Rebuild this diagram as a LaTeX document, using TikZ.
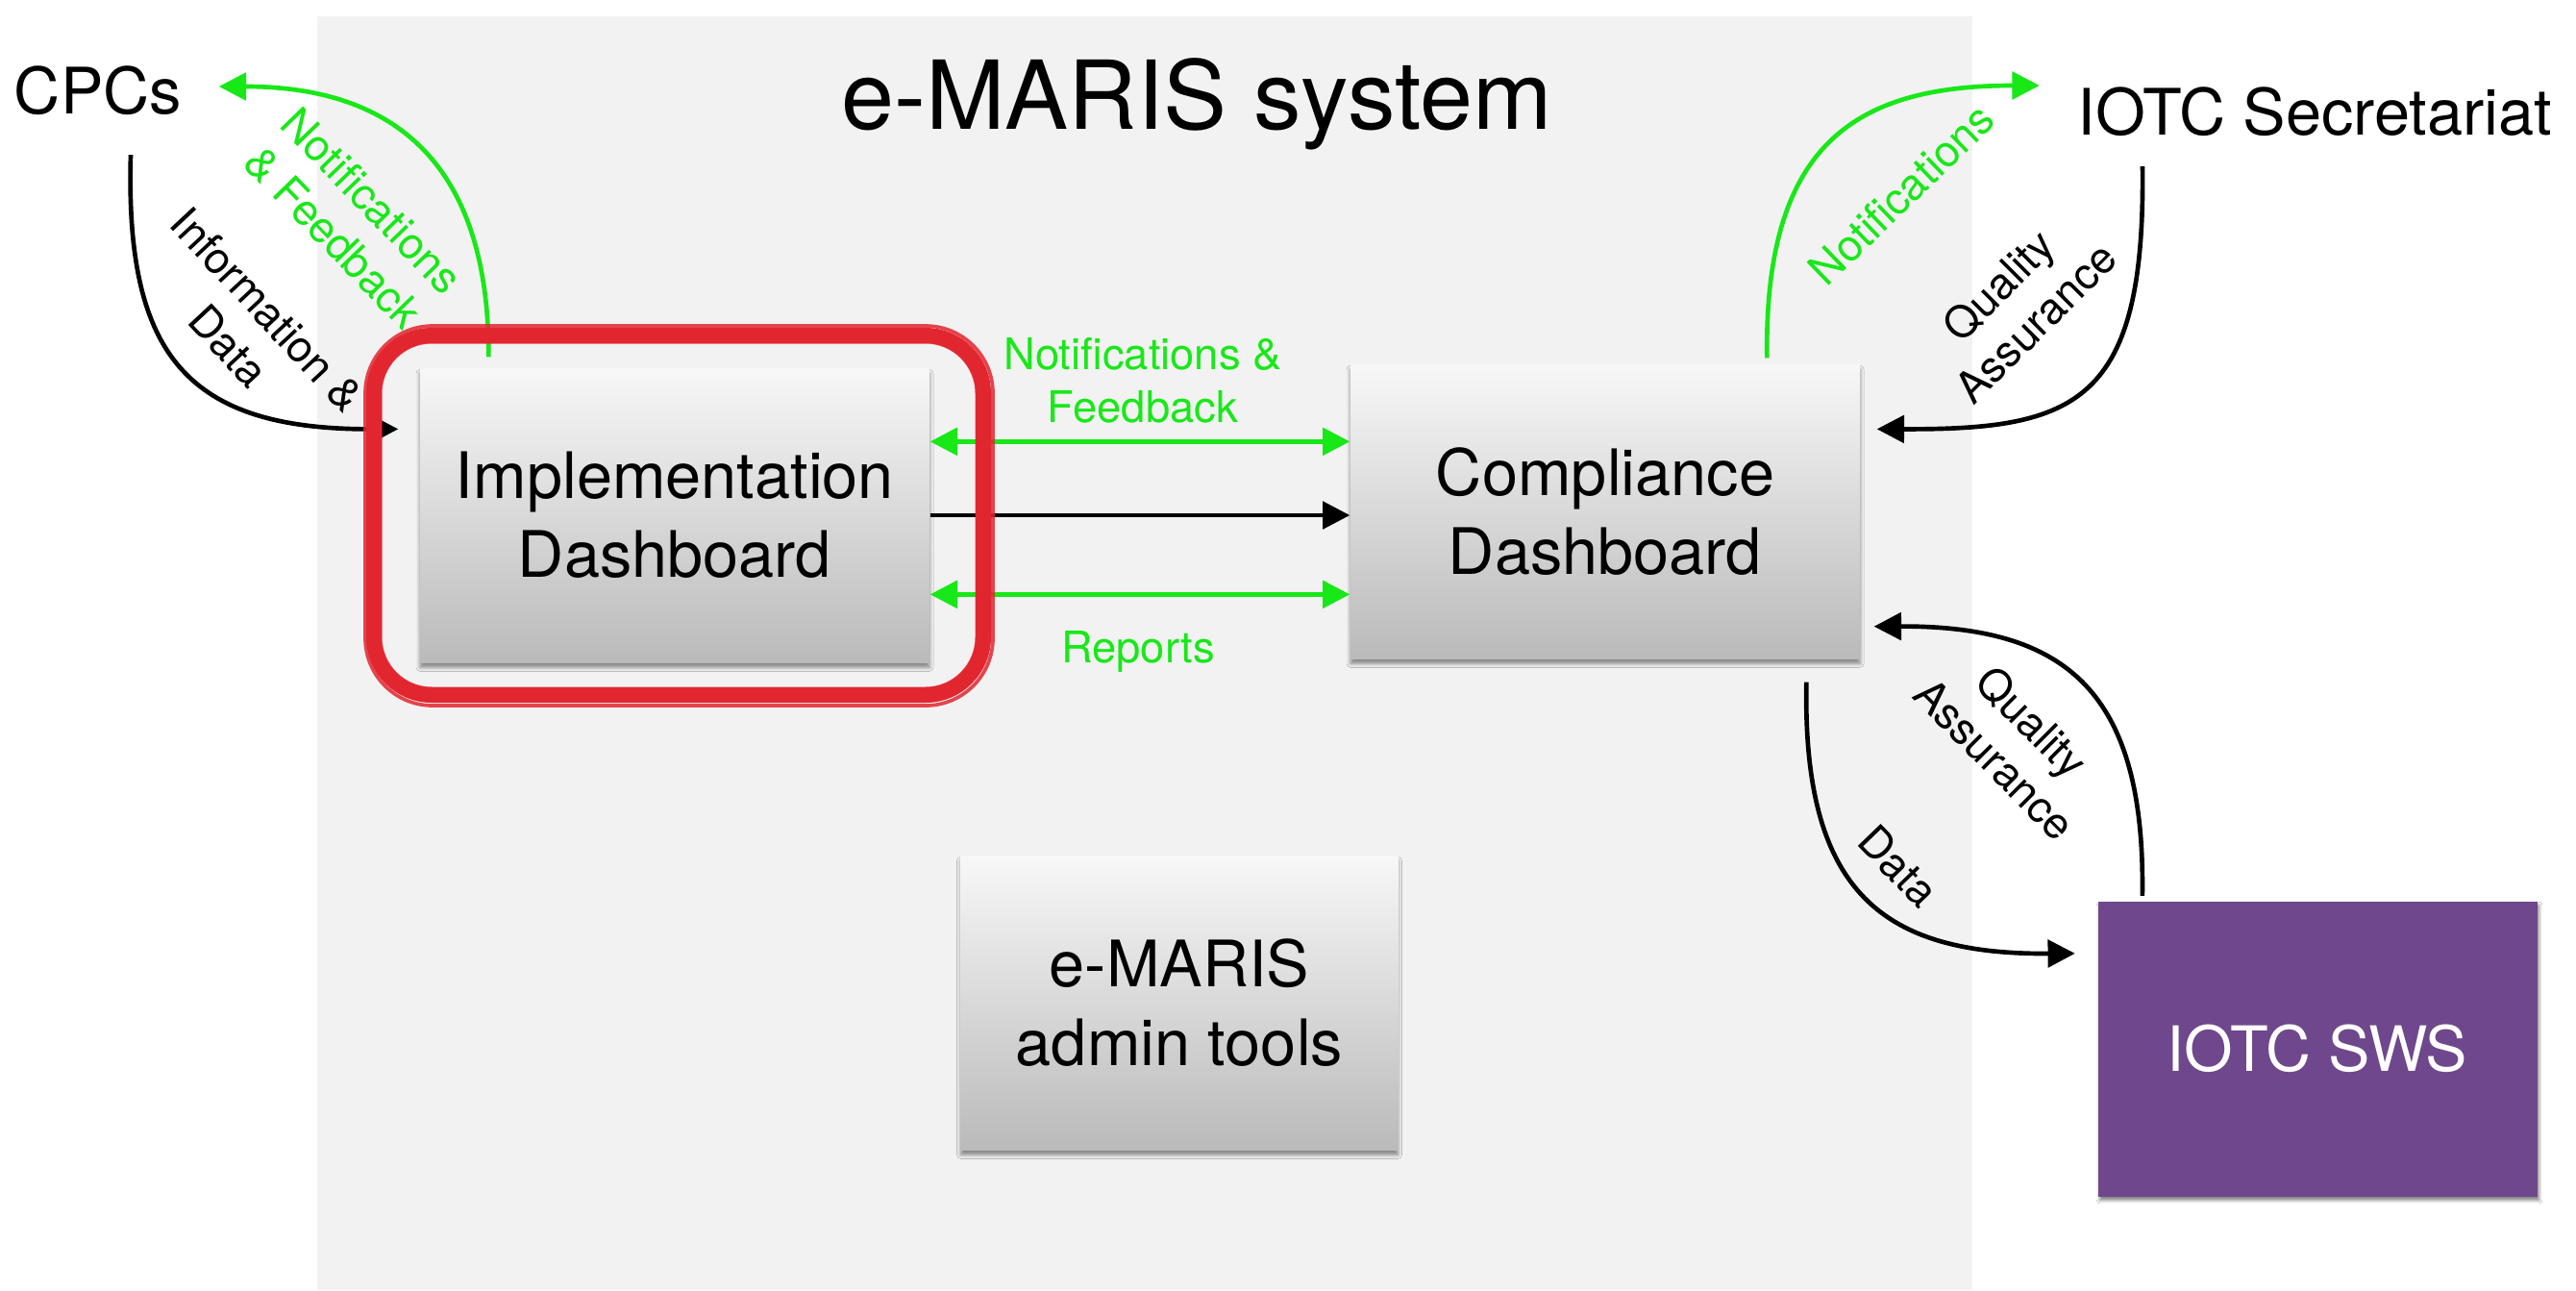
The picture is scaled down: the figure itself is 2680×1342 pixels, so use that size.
\documentclass[tikz,border=0pt]{standalone}
\usepackage{fontspec}
\setmainfont{TeX Gyre Heros}
\usetikzlibrary{arrows.meta,shadows.blur,calc}
\definecolor{panelgray}{RGB}{242,242,242}
\definecolor{ngreen}{RGB}{24,232,24}
\definecolor{swspurple}{RGB}{111,71,140}
\definecolor{markred}{RGB}{226,38,48}
\tikzset{
  tip/.tip={Triangle[length=8.5pt,width=8.5pt]},
  dashbox/.style={draw=none, top color=white!97!black, bottom color=black!27,
    minimum width=159pt, minimum height=91.8pt, inner sep=0pt, align=center,
    font=\fontsize{20}{24.6}\selectfont,
    blur shadow={shadow xshift=0pt, shadow yshift=-1.6pt, shadow blur radius=1.2pt, shadow opacity=45}},
  bigtext/.style={inner sep=0pt, font=\fontsize{20}{24}\selectfont},
  lbl/.style={inner sep=0pt, align=center, font=\fontsize{13.6}{16.5}\selectfont},
  glbl/.style={lbl, text=ngreen},
  garrow/.style={draw=ngreen, line width=1.4pt, -tip},
  gdouble/.style={draw=ngreen, line width=1.4pt, tip-tip},
  barrow/.style={draw=black, line width=1.4pt, -tip},
}
\begin{document}
\begin{tikzpicture}[x=0.3pt,y=-0.3pt]
\useasboundingbox (0,0) rectangle (2680,1342);
\fill[white] (0,0) rectangle (2680,1342);
\fill[panelgray] (330,17) rectangle (2052,1342);

% title
\node[inner sep=0pt, font=\fontsize{29.7}{34}\selectfont] (title) at (1245,108) {e-MARIS system};

% external actors
\node[bigtext] (cpcs) at (102,94) {CPCs};
\node[bigtext] (sec) at (2408,116) {IOTC Secretariat};

% boxes
\node[dashbox] (impl) at (702,536) {Implementation\\Dashboard};
\node[dashbox] (comp) at (1670,532) {Compliance\\Dashboard};
\node[dashbox, minimum width=136.5pt] (admin) at (1227,1043) {e-MARIS\\admin tools};
\node[draw=none, fill=swspurple, text=white, minimum width=137.1pt, minimum height=92.1pt,
      inner sep=0pt, font=\fontsize{19.5}{24}\selectfont,
      blur shadow={shadow xshift=0.6pt, shadow yshift=-1.2pt, shadow blur radius=1pt, shadow opacity=50}]
      (sws) at (2411,1091) {IOTC SWS};

% arrows between dashboards
\coordinate (g1) at ($(impl.north east)+(0,77)$);
\coordinate (g2) at ($(impl.north east)+(0,236)$);
\draw[gdouble] (g1) -- (g1 -| comp.west);
\draw[barrow] (impl.east) -- (impl.east -| comp.west);
\draw[gdouble] (g2) -- (g2 -| comp.west);
\node[glbl] (nf) at (1189,396) {Notifications \&\\Feedback};
\node[glbl] (rep) at (1184,678) {Reports};

% CPCs <-> Implementation
\draw[garrow] ($(impl.north west)+(72,-11)$) .. controls (509,160) and (400,90) .. ($(cpcs.east)+(38,-4)$);
\draw[barrow] ($(cpcs.south)+(34,41)$) .. controls (130,370) and (195,447) .. ($(impl.north west)+(-22,64)$);
\node[glbl, rotate=-46] (nf1) at (367,228) {Notifications\\\& Feedback};
\node[lbl, rotate=-47] (inf) at (258,341) {Information \&\\Data};

% Compliance <-> Secretariat
\draw[garrow] ($(comp.north west)+(434,-6)$) .. controls (1835,150) and (1930,89) .. ($(sec.west)+(-39,-27)$);
\draw[barrow] ($(sec.south)+(-179,31)$) .. controls (2232,420) and (2160,447) .. ($(comp.north east)+(17,68)$);
\node[glbl, rotate=44] (nf2) at (1978,202) {Notifications};
\node[lbl, rotate=45] (qa1) at (2098,316) {Quality\\Assurance};

% Compliance <-> SWS
\draw[barrow] ($(sws.north west)+(47,-5)$) .. controls (2232,720) and (2150,651) .. ($(comp.south east)+(14,-34)$);
\draw[barrow] ($(comp.south west)+(475,24)$) .. controls (1875,930) and (1960,993) .. ($(sws.north west)+(-23,55)$);
\node[lbl, rotate=-45] (qa2) at (2095,770) {Quality\\Assurance};
\node[lbl, rotate=-46] (dat) at (1975,901) {Data};

% red hand-drawn highlight
\draw[markred, line width=4.8pt, rounded corners=18pt] (389,349) rectangle (1023,723);
\draw[markred, line width=1.1pt, rounded corners=21pt, opacity=0.85] (380,339) rectangle (1033,734);
\draw[markred, line width=0.9pt, rounded corners=16pt, opacity=0.8] (396,356) rectangle (1016,716);
\end{tikzpicture}
\end{document}
